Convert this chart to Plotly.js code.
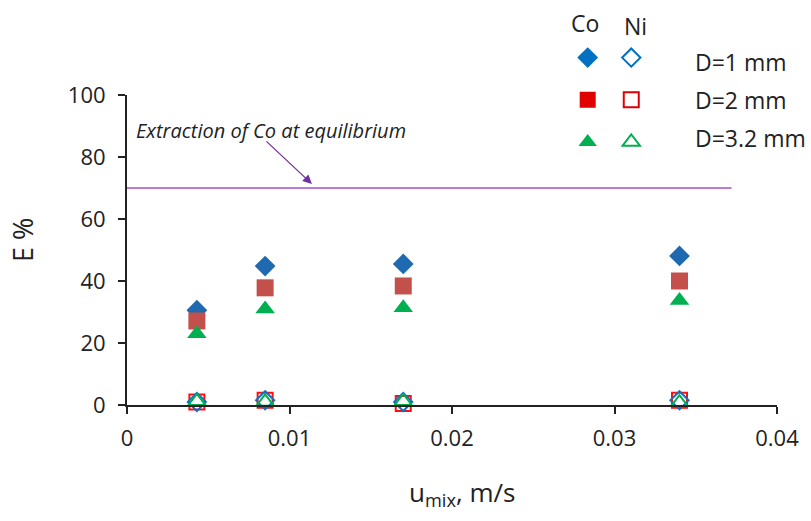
<!DOCTYPE html>
<html><head><meta charset="utf-8">
<script src="https://cdn.plot.ly/plotly-3.0.1.min.js"></script>
<style>html,body{margin:0;padding:0;background:#fff}</style>
</head><body>
<div id="chart" style="width:811px;height:521px"></div>
<script>
var uMix = [0.0043, 0.0085, 0.017, 0.034];
var coD1 = [30.6, 44.8, 45.5, 48.1];
var coD2 = [27.1, 37.8, 38.4, 40.0];
var coD32 = [23.0, 31.0, 31.4, 33.7];
var niD1 = [1.0, 1.5, 1.0, 1.5];
var niD2 = [1.0, 1.5, 0.5, 1.5];
var niD32 = [1.2, 1.0, 1.2, 0.8];
var eqX = [0, 0.0372];
var eqY = [70, 70];
var seriesLabels = ['D=1 mm', 'D=2 mm', 'D=3.2 mm'];
var metalLabels = ['Co', 'Ni'];

var F = '"Open Sans", Lato, sans-serif';
function tr(y, sym, col, size, open, lg, grp, x) {
  return {
    x: x || uMix, y: y, type: 'scatter', mode: 'markers', cliponaxis: false,
    marker: {symbol: sym, size: size, color: col,
             line: {color: col, width: open ? 2 : 0}},
    showlegend: !!lg, legend: lg || 'legend', legendgroup: grp, name: '', hoverinfo: 'skip'
  };
}
var traces = [
  {x: eqX, y: eqY, type: 'scatter', mode: 'lines', line: {color: '#A64DC9', width: 1.5}, showlegend: false, hoverinfo: 'skip'},
  tr(niD2, 'square-open', '#FF1010', 15, true),
  tr(niD1, 'diamond-open', '#1070C8', 14, true),
  tr(niD32, 'triangle-up-open', '#00B050', 15, true),
  tr(coD1, 'diamond', '#1F69B0', 16, false),
  tr(coD2, 'square', '#C4504C', 17, false),
  tr(coD32, 'triangle-up', '#00B050', 17, false),
  // legend keys
  tr([null], 'diamond', '#0070C0', 16, false, 'legend', 'a', [null]),
  tr([null], 'square', '#E00000', 16, false, 'legend', 'b', [null]),
  tr([null], 'triangle-up', '#00B050', 16, false, 'legend', 'c', [null]),
  tr([null], 'diamond-open', '#0070C0', 14, true, 'legend2', 'a', [null]),
  tr([null], 'square-open', '#E00000', 15, true, 'legend2', 'b', [null]),
  tr([null], 'triangle-up-open', '#00B050', 15, true, 'legend2', 'c', [null])
];
var legCommon = {font: {family: F, size: 14}, tracegroupgap: 21, bgcolor: 'rgba(0,0,0,0)',
  xanchor: 'left', yanchor: 'top', orientation: 'v', itemwidth: 30};
var txt = {family: F, color: '#222'};
function lab(x, y, t, size, anchor) {
  return {xref: 'paper', yref: 'paper', x: x, y: y, text: t, showarrow: false,
          xanchor: anchor || 'center', yanchor: 'middle', font: Object.assign({size: size}, txt)};
}
var layout = {
  width: 811, height: 521,
  margin: {l: 127, r: 34, t: 95, b: 116, autoexpand: false},
  paper_bgcolor: '#fff', plot_bgcolor: '#fff',
  font: {family: F, color: '#222'},
  xaxis: {range: [0, 0.04], tickvals: [0, 0.01, 0.02, 0.03, 0.04], ticktext: ['0', '0.01', '0.02', '0.03', '0.04'],
          showgrid: false, zeroline: false, showline: true, linecolor: '#222', linewidth: 2,
          ticks: 'outside', ticklen: 7, tickwidth: 2, tickcolor: '#222', ticklabelstandoff: 6,
          tickfont: Object.assign({size: 22}, txt)},
  yaxis: {range: [0, 100], tickvals: [0, 20, 40, 60, 80, 100],
          showgrid: false, zeroline: false, showline: true, linecolor: '#222', linewidth: 2,
          ticks: 'outside', ticklen: 7, tickwidth: 2, tickcolor: '#222', ticklabelstandoff: 8,
          tickfont: Object.assign({size: 22}, txt)},
  legend: Object.assign({x: 0.678, y: 1.171}, legCommon),
  legend2: Object.assign({x: 0.745, y: 1.171}, legCommon),
  annotations: [
    lab(0.515, -0.284, 'u<sub>mix</sub>, m/s', 26),
    Object.assign(lab(-0.1615, 0.532, 'E %', 27), {textangle: -90}),
    {x: 0.0004, y: 88.7, text: '<i>Extraction of Co at equilibrium</i>', showarrow: false,
     xanchor: 'left', yanchor: 'middle', font: Object.assign({size: 20}, txt)},
    {x: 0.01138, y: 71.3, ax: -47, ay: -44, text: '', showarrow: true, arrowhead: 2, arrowsize: 1.4,
     arrowwidth: 1.3, arrowcolor: '#7030A0'},
    lab(0.705, 1.232, metalLabels[0], 23),
    lab(0.782, 1.223, metalLabels[1], 23),
    lab(0.871, 1.106, seriesLabels[0], 23, 'left'),
    lab(0.871, 0.984, seriesLabels[1], 23, 'left'),
    lab(0.871, 0.861, seriesLabels[2], 23, 'left')
  ]
};
Plotly.newPlot('chart', traces, layout, {displayModeBar: false, staticPlot: true});
</script>
</body></html>
